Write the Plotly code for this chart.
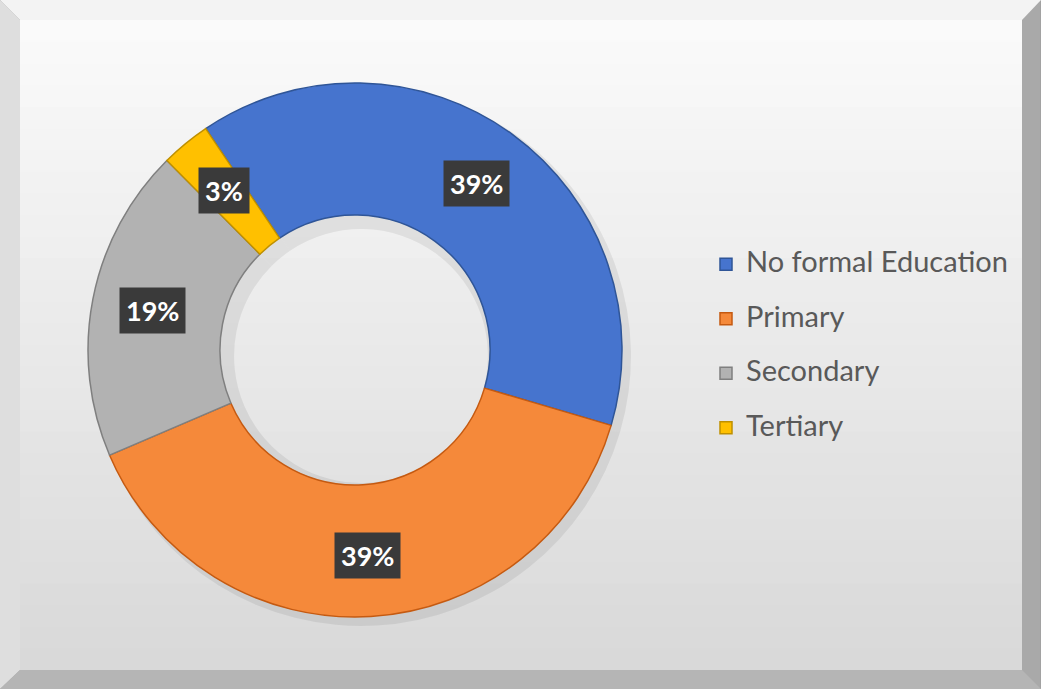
import math

import plotly.graph_objects as go

# data
categories = ["No formal Education", "Primary", "Secondary", "Tertiary"]
shares = [39, 39, 19, 3]

slice_colors = ["#4674CE", "#F5893A", "#B2B2B2", "#FFC000"]
edge_colors = ["#2F5597", "#C55A11", "#7F7F7F", "#BF9000"]

W, H = 1041, 689
CX, CY, R_OUT, R_IN = 355, 350, 267, 135
ROTATION = -34


def px(x):
    return x / W


def py(y):
    return 1 - y / H


domain = {"x": [px(CX - R_OUT), px(CX + R_OUT)], "y": [py(CY + R_OUT), py(CY - R_OUT)]}
shadow_domain = {"x": [px(CX - R_OUT + 3), px(CX + R_OUT + 9)], "y": [py(CY + R_OUT + 9), py(CY - R_OUT + 3)]}

fig = go.Figure()

# soft shadow behind the ring
fig.add_trace(
    go.Pie(
        labels=categories,
        values=shares,
        hole=0.47,
        sort=False,
        direction="clockwise",
        rotation=ROTATION,
        domain=shadow_domain,
        marker={"colors": ["rgba(0,0,0,0.07)"] * len(shares), "line": {"width": 0}},
        textinfo="none",
        hoverinfo="skip",
        showlegend=False,
    )
)

fig.add_trace(
    go.Pie(
        labels=[f"<span style='font-size:29px'>{c}</span><br> " for c in categories],
        values=shares,
        hole=R_IN / R_OUT,
        sort=False,
        direction="clockwise",
        rotation=ROTATION,
        domain=domain,
        marker={"colors": slice_colors, "line": {"color": edge_colors, "width": 1.5}},
        textinfo="none",
        hovertemplate="%{label}: %{percent}<extra></extra>",
    )
)

# percentage labels in dark boxes, placed at the middle of each slice
total = sum(shares)
angle = ROTATION
label_r = 206
for value in shares:
    span = value / total * 360
    mid = math.radians(angle + span / 2)
    angle += span
    fig.add_annotation(
        x=px(CX + label_r * math.sin(mid)),
        y=py(CY - label_r * math.cos(mid)),
        xref="paper",
        yref="paper",
        xanchor="center",
        yanchor="middle",
        text=f"{round(value / total * 100)}%",
        showarrow=False,
        font={"family": "Lato", "size": 27, "color": "white", "weight": "bold"},
        bgcolor="#3A3A3A",
        borderpad=6,
    )

# framed background with bevel and a soft vertical gradient
shapes = [
    dict(type="rect", x0=0, x1=1, y0=0, y1=1, fillcolor="#A9A9A9", line={"color": "#9A9A9A", "width": 1}),
    dict(type="path", path=f"M 0 1 L 1 1 L {px(1022)} {py(20)} L {px(20)} {py(20)} Z", fillcolor="#F3F3F3", line={"width": 0}),
    dict(type="path", path=f"M 0 1 L {px(20)} {py(20)} L {px(20)} {py(670)} L 0 0 Z", fillcolor="#DEDEDE", line={"width": 0}),
    dict(type="path", path=f"M 0 0 L {px(20)} {py(670)} L {px(1022)} {py(670)} L 1 0 Z", fillcolor="#B5B5B5", line={"width": 0}),
]
steps = 30
top, bottom = (250, 250, 250), (217, 217, 217)
for i in range(steps):
    t = i / (steps - 1)
    c = tuple(round(a + (b - a) * t) for a, b in zip(top, bottom))
    y0 = 20 + (670 - 20) * i / steps
    y1 = min(670, 20 + (670 - 20) * (i + 1) / steps + 2)
    shapes.append(
        dict(
            type="rect",
            x0=px(20), x1=px(1022), y0=py(y1), y1=py(y0),
            fillcolor=f"rgb{c}", line={"width": 0},
        )
    )
for s in shapes:
    s.update(xref="paper", yref="paper", layer="below")

fig.update_layout(
    width=W,
    height=H,
    margin={"l": 0, "r": 0, "t": 0, "b": 0},
    paper_bgcolor="#E6E6E6",
    plot_bgcolor="rgba(0,0,0,0)",
    shapes=shapes,
    showlegend=True,
    legend={
        "x": px(706),
        "y": py(359),
        "xanchor": "left",
        "yanchor": "middle",
        "valign": "top",
        "bgcolor": "rgba(0,0,0,0)",
        "font": {"family": "Lato", "size": 19.8, "color": "#595959"},
    },
)

fig.write_html(
    "out.html",
    config={"displayModeBar": False},
    post_script="document.body.style.margin='0';",
)
